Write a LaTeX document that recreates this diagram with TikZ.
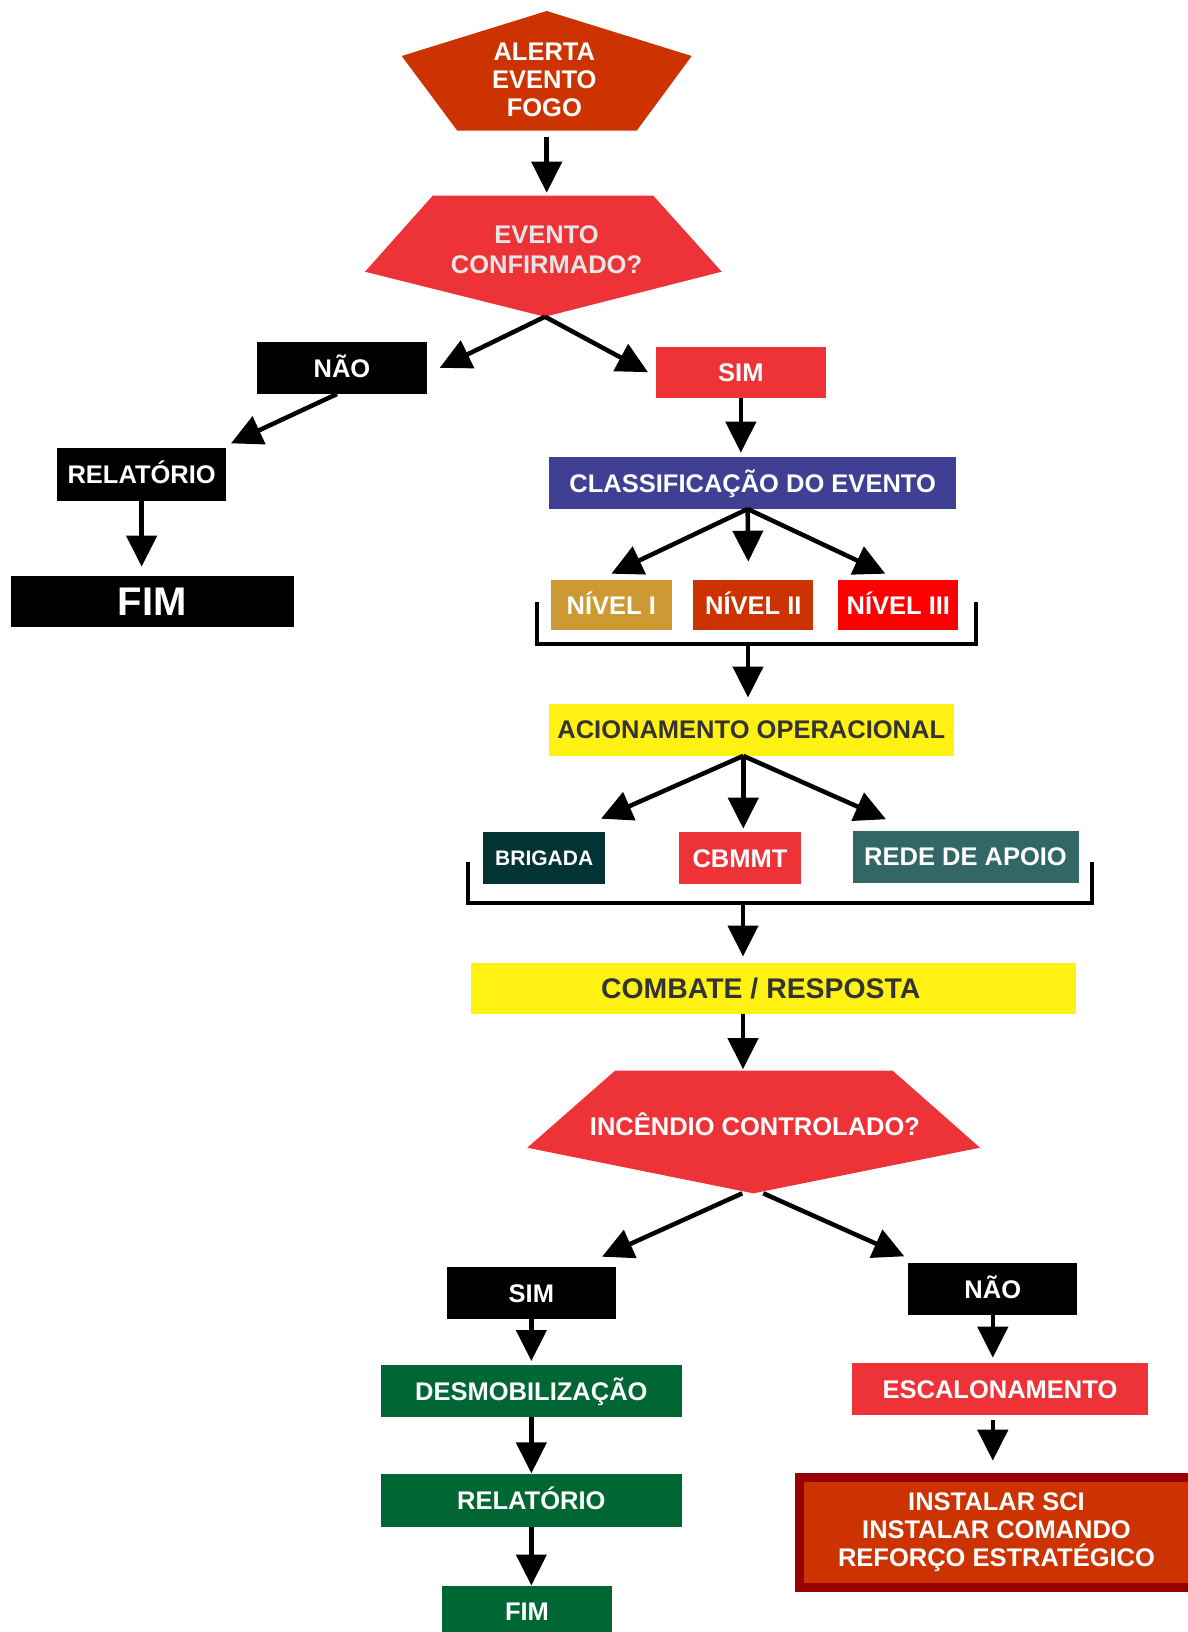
\documentclass[tikz,border=0pt]{standalone}
\usepackage{fontspec}
\setmainfont{Liberation Sans}
\usetikzlibrary{arrows.meta}
\definecolor{vermelho}{HTML}{EE3338}
\definecolor{laranja}{HTML}{CC3300}
\definecolor{azul}{HTML}{3F3F94}
\definecolor{ocre}{HTML}{CC9933}
\definecolor{rubro}{HTML}{FF0000}
\definecolor{amarelo}{HTML}{FFF212}
\definecolor{grafite}{HTML}{333333}
\definecolor{petroleo}{HTML}{033333}
\definecolor{azulverde}{HTML}{336666}
\definecolor{verde}{HTML}{006633}
\definecolor{vinho}{HTML}{990000}
\definecolor{gelo}{HTML}{E6E6E6}

\begin{document}
\begin{tikzpicture}[x=1pt,y=-1pt,
  base/.style={rectangle,inner sep=0pt,outer sep=0pt,text=white,font=\bfseries\fontsize{25.5}{30}\selectfont},
  caixa/.style={base,minimum height=52.3pt,text height=18.3pt,text depth=0pt},
  rotulo/.style={base,align=center},
  seta/.style={draw=black,line width=4.5pt,-{Triangle[length=31pt,width=30pt]}},
  chave/.style={draw=black,line width=4pt}]
\useasboundingbox (0,0) rectangle (1187,1632);

\coordinate (a1) at (546.7,11);
\coordinate (a2) at (691.7,56);
\coordinate (a3) at (636.7,130.7);
\coordinate (a4) at (457.3,130.7);
\coordinate (a5) at (401.7,56);
\fill[laranja] (a1) -- (a2) -- (a3) -- (a4) -- (a5) -- cycle;
\node[rotulo,font=\bfseries\fontsize{25.5}{27.8}\selectfont] (alerta) at (544.3,80) {ALERTA\\EVENTO\\FOGO};

\coordinate (e1) at (432.7,195.7);
\coordinate (e2) at (653.3,195.7);
\coordinate (e3) at (721.7,271.7);
\coordinate (e4) at (545,316.7);
\coordinate (e5) at (365,271.7);
\fill[vermelho] (e1) -- (e2) -- (e3) -- (e4) -- (e5) -- cycle;
\node[rotulo,text=gelo] (evconf) at (546.5,250) {EVENTO\\CONFIRMADO?};

\node[caixa,fill=black,minimum width=169.4pt] (nao1) at (342,367.85) {NÃO};
\node[caixa,fill=vermelho,minimum width=169.7pt,minimum height=51pt] (sim1) at (740.85,372.2) {SIM};
\node[caixa,fill=black,minimum width=168.7pt] (rel1) at (141.65,474.5) {RELATÓRIO};
\node[caixa,fill=black,minimum width=283.3pt,minimum height=51.6pt,text height=28.6pt,
  font=\bfseries\fontsize{40}{48}\selectfont] (fim1) at (152.35,601.5) {FIM};

\node[caixa,fill=azul,minimum width=406.7pt] (classif) at (752.65,482.85) {CLASSIFICAÇÃO DO EVENTO};
\node[caixa,fill=ocre,minimum width=120.7pt,minimum height=50.3pt] (niv1) at (611.35,604.85) {NÍVEL I};
\node[caixa,fill=laranja,minimum width=120pt,minimum height=50.3pt] (niv2) at (753.3,604.85) {NÍVEL II};
\node[caixa,fill=rubro,minimum width=120pt,minimum height=50.3pt] (niv3) at (898.3,604.85) {NÍVEL III};

\node[caixa,fill=amarelo,text=grafite,minimum width=405.5pt] (acion) at (751.25,729.7) {ACIONAMENTO OPERACIONAL};
\node[caixa,fill=petroleo,minimum width=121.6pt,text height=15pt,
  font=\bfseries\fontsize{21}{25}\selectfont] (brig) at (544.2,857.85) {BRIGADA};
\node[caixa,fill=vermelho,minimum width=122pt] (cbmmt) at (740,858.3) {CBMMT};
\node[caixa,fill=azulverde,minimum width=226pt] (rede) at (965.5,856.7) {REDE DE APOIO};

\node[caixa,fill=amarelo,text=grafite,minimum width=605.5pt,minimum height=51.7pt,text height=20.3pt,
  font=\bfseries\fontsize{28.4}{32}\selectfont] (combate) at (773.25,988.35) {COMBATE / RESPOSTA\rule{25pt}{0pt}};

\coordinate (i1) at (615,1070.7);
\coordinate (i2) at (892.7,1070.7);
\coordinate (i3) at (980,1147.7);
\coordinate (i4) at (753.3,1193.3);
\coordinate (i5) at (527.3,1147.7);
\fill[vermelho] (i1) -- (i2) -- (i3) -- (i4) -- (i5) -- cycle;
\node[base,text height=18.3pt,text depth=0pt] (incend) at (755,1126.7) {INCÊNDIO CONTROLADO?};

\node[caixa,fill=black,minimum width=169.3pt] (sim2) at (531.35,1292.85) {SIM};
\node[caixa,fill=verde,minimum width=300.7pt] (desmob) at (531.35,1391.15) {DESMOBILIZAÇÃO};
\node[caixa,fill=verde,minimum width=300.7pt] (rel2) at (531.35,1500.5) {RELATÓRIO};
\node[caixa,fill=verde,minimum width=169.4pt,minimum height=52.5pt] (fim2) at (527,1611.75) {FIM};
\node[caixa,fill=black,minimum width=169pt,minimum height=52pt] (nao2) at (992.8,1289.3) {NÃO};
\node[caixa,fill=vermelho,minimum width=296.6pt] (escal) at (1000,1388.85) {ESCALONAMENTO};
\node[rotulo,draw=vinho,line width=9pt,fill=laranja,minimum width=394pt,minimum height=110.3pt,
  font=\bfseries\fontsize{25.5}{28.3}\selectfont] (instal) at (996.5,1532.35)
  {INSTALAR SCI\\INSTALAR COMANDO\\REFORÇO ESTRATÉGICO};

\draw[chave] (536.7,602.3) |- (975.7,644) -- (975.7,602.3);
\coordinate (chave1) at (748,644);
\draw[chave] (467.8,861.7) |- (1091.5,903.3) -- (1091.5,861.7);
\coordinate (chave2) at (743,903.3);
\coordinate (ac) at ([xshift=-8pt]acion.south);

\draw[seta,shorten <=6pt,shorten >=3pt] (a1 |- a3) -- (a1 |- e1);
\draw[seta] (e4) -- ([xshift=13pt]nao1.east);
\draw[seta] (e4) -- ([xshift=-8pt]sim1.west);
\draw[seta] ([xshift=-5pt]nao1.south) -- ([shift={(5pt,5pt)}]rel1.north east);
\draw[seta,shorten >=9pt] (rel1.south) -- (rel1 |- fim1.north);
\draw[seta,shorten >=4pt] (sim1.south) -- (sim1 |- classif.north);
\draw[seta] ([xshift=-5pt]classif.south) -- ([yshift=6pt]niv1.north);
\draw[seta] ([xshift=-5pt]classif.south) -- ([shift={(-5pt,18pt)}]niv2.north);
\draw[seta] ([xshift=-5pt]classif.south) -- ([shift={(-13pt,6pt)}]niv3.north);
\draw[seta,shorten >=6pt] (chave1) -- (chave1 |- acion.north);
\draw[seta] (ac) -- ([shift={(-4pt,13pt)}]brig.north east);
\draw[seta,shorten >=3.5pt] (ac) -- (ac |- cbmmt.north);
\draw[seta] (ac) -- ([shift={(33.5pt,11.3pt)}]rede.north west);
\draw[seta,shorten >=6pt] (chave2) -- (chave2 |- combate.north);
\draw[seta,shorten >=1.5pt] (chave2 |- combate.south) -- (chave2 |- i1);
\draw[seta] ([xshift=-11pt]i4) -- ([shift={(-14pt,10pt)}]sim2.north east);
\draw[seta] ([xshift=10pt]i4) -- ([shift={(-4pt,7pt)}]nao2.north west);
\draw[seta,shorten >=4pt] (sim2.south) -- (sim2 |- desmob.north);
\draw[seta,shorten >=1pt] (desmob.south) -- (desmob |- rel2.north);
\draw[seta] (rel2.south) -- (rel2 |- fim2.north);
\draw[seta,shorten >=5pt] (nao2.south) -- (nao2 |- escal.north);
\draw[seta,shorten <=5pt,shorten >=16.5pt] (nao2 |- escal.south) -- (nao2 |- instal.north);
\end{tikzpicture}
\end{document}
